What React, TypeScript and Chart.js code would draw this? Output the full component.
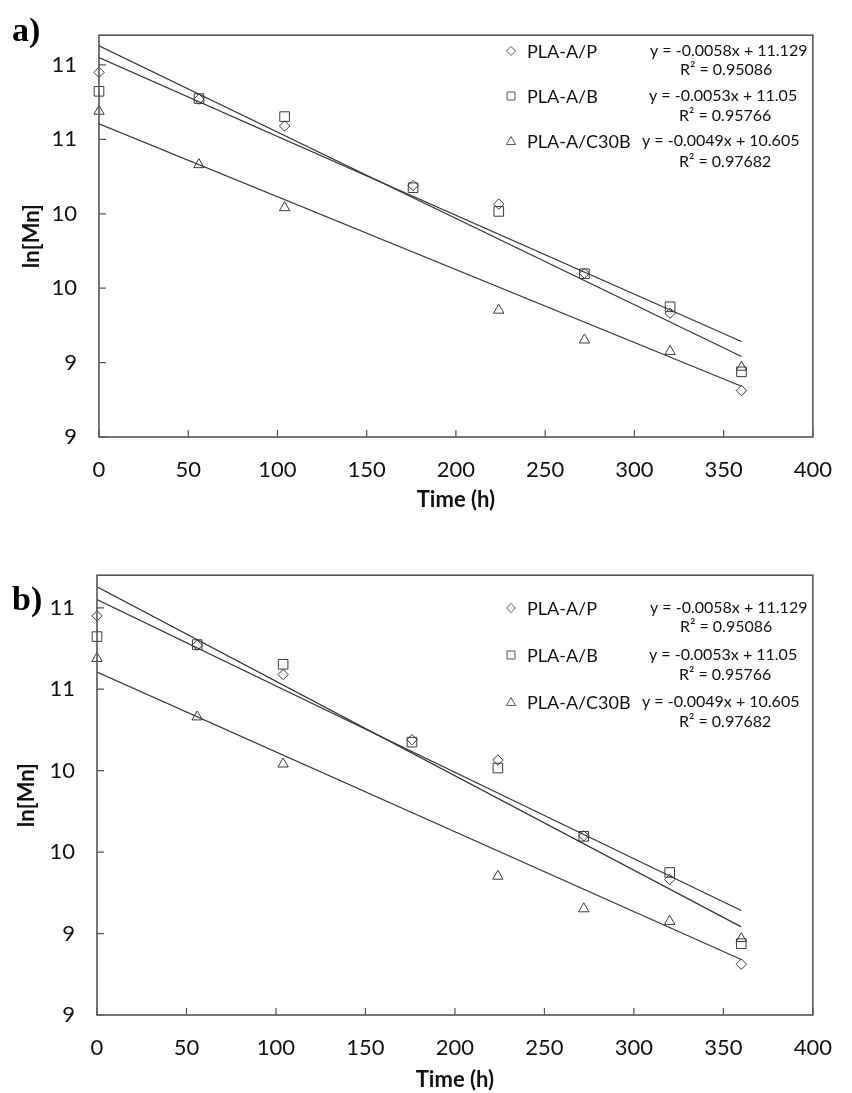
import React, { useEffect, useRef } from 'react';
import { Chart, registerables } from 'chart.js';

Chart.register(...registerables);

// ---------- data ----------
const timeH = [0, 56, 104, 176, 224, 272, 320, 360];
const lnMnP = [10.95, 10.77, 10.59, 10.19, 10.065, 9.6, 9.332, 8.812];
const lnMnB = [10.823, 10.774, 10.653, 10.175, 10.016, 9.597, 9.375, 8.938];
const timeC30B = [0, 56, 104, 224, 272, 320, 360];
const lnMnC30B = [10.689, 10.33, 10.041, 9.352, 9.152, 9.075, 8.969];

const trendX = [0, 360];
const trendP = [11.129, 9.041];
const trendB = [11.05, 9.142];
const trendC30B = [10.605, 8.841];

const xTicks = [0, 50, 100, 150, 200, 250, 300, 350, 400];
const xTickLabels = ['0', '50', '100', '150', '200', '250', '300', '350', '400'];
const yTickValues = [8.5, 9, 9.5, 10, 10.5, 11];
const yTickLabels = ['9', '9', '10', '10', '11', '11'];

const seriesNames = ['PLA-A/P', 'PLA-A/B', 'PLA-A/C30B'];
const equations = ['y = -0.0058x + 11.129', 'y = -0.0053x + 11.05', 'y = -0.0049x + 10.605'];
const rSquared = ['R² = 0.95086', 'R² = 0.95766', 'R² = 0.97682'];
const markerStyles = ['rectRot', 'rect', 'triangle'];

const xTitle = 'Time (h)';
const yTitle = 'ln[Mn]';

const FONT = 'Lato, "Open Sans", sans-serif';
const TEXT = '#111111';
const FRAME = '#555555';
const LINE = '#363636';
const MARK = '#3a3a3a';

type PanelCfg = {
  top: number;
  height: number;
  pad: { left: number; right: number; top: number; bottom: number };
  yAxisWidth: number;
  xAxisHeight: number;
  yTitlePad: number;
  legendRows: number[];
  rsqRows: number[];
  tag: string;
  tagTop: number;
};

const panels: PanelCfg[] = [
  {
    top: 0,
    height: 530,
    pad: { left: 0, right: 25, top: 15, bottom: 17 },
    yAxisWidth: 99,
    xAxisHeight: 76,
    yTitlePad: 19,
    legendRows: [51, 96, 141],
    rsqRows: [70, 116, 162],
    tag: 'a)',
    tagTop: 13,
  },
  {
    top: 540,
    height: 553,
    pad: { left: 0, right: 23, top: 35, bottom: 0 },
    yAxisWidth: 97,
    xAxisHeight: 78,
    yTitlePad: 14,
    legendRows: [68, 115, 162],
    rsqRows: [87, 135, 182],
    tag: 'b)',
    tagTop: 582,
  },
];

const eqX = [650, 649, 642];
const rsqX = [680, 679, 679];

const decorPlugin = {
  id: 'decor',
  afterDatasetsDraw(chart: any, _args: any, opts: any) {
    const { ctx, chartArea } = chart;
    const { left, right, top, bottom } = chartArea;
    ctx.save();
    // frame
    ctx.strokeStyle = FRAME;
    ctx.lineWidth = 1.6;
    ctx.strokeRect(left, top, right - left, bottom - top);
    // inner ticks
    ctx.lineWidth = 1.2;
    const xs = chart.scales.x;
    const ys = chart.scales.y;
    ctx.beginPath();
    xs.ticks.forEach((t: any) => {
      const px = xs.getPixelForValue(t.value);
      ctx.moveTo(px, bottom);
      ctx.lineTo(px, bottom - 7);
    });
    ys.ticks.forEach((t: any) => {
      const py = ys.getPixelForValue(t.value);
      ctx.moveTo(left, py);
      ctx.lineTo(left + 7, py);
    });
    ctx.stroke();

    // legend
    const rows: number[] = opts.legendRows;
    const rsq: number[] = opts.rsqRows;
    ctx.textBaseline = 'middle';
    ctx.textAlign = 'left';
    for (let i = 0; i < 3; i++) {
      const y = rows[i];
      ctx.strokeStyle = '#555';
      ctx.lineWidth = 1;
      ctx.beginPath();
      if (markerStyles[i] === 'rectRot') {
        ctx.moveTo(511, y - 4.5);
        ctx.lineTo(515.5, y);
        ctx.lineTo(511, y + 4.5);
        ctx.lineTo(506.5, y);
        ctx.closePath();
      } else if (markerStyles[i] === 'rect') {
        ctx.rect(507, y - 4, 8, 8);
      } else {
        ctx.moveTo(511, y - 4.5);
        ctx.lineTo(515.5, y + 3.5);
        ctx.lineTo(506.5, y + 3.5);
        ctx.closePath();
      }
      ctx.stroke();
      ctx.fillStyle = TEXT;
      ctx.font = `18px ${FONT}`;
      ctx.fillText(seriesNames[i], 527, y + 1);
      ctx.font = `16px ${FONT}`;
      ctx.fillText(equations[i], eqX[i], y);
      ctx.fillText(rSquared[i], rsqX[i], rsq[i]);
    }
    ctx.restore();
  },
};

function buildChart(canvas: HTMLCanvasElement, cfg: PanelCfg) {
  const pts = (xa: number[], ya: number[]) => xa.map((x, i) => ({ x, y: ya[i] }));
  const trend = (ya: number[]) => ({
    data: pts(trendX, ya),
    showLine: true,
    borderColor: LINE,
    borderWidth: 1.2,
    pointRadius: 0,
    fill: false,
  });
  const marks = (xa: number[], ya: number[], style: string, r: number, label: string) => ({
    label,
    data: pts(xa, ya),
    showLine: false,
    pointStyle: style,
    pointRadius: r,
    borderColor: MARK,
    backgroundColor: 'rgba(0,0,0,0)',
    borderWidth: 1,
    clip: false,
  });
  return new Chart(canvas, {
    type: 'scatter',
    data: {
      datasets: [
        trend(trendP),
        trend(trendB),
        trend(trendC30B),
        marks(timeH, lnMnP, 'rectRot', 5.2, seriesNames[0]),
        marks(timeH, lnMnB, 'rect', 6.8, seriesNames[1]),
        marks(timeC30B, lnMnC30B, 'triangle', 6, seriesNames[2]),
      ] as any,
    },
    options: {
      animation: false,
      responsive: false,
      devicePixelRatio: 1,
      layout: { padding: cfg.pad },
      plugins: {
        legend: { display: false },
        tooltip: { enabled: false },
        decor: { legendRows: cfg.legendRows, rsqRows: cfg.rsqRows },
      } as any,
      scales: {
        x: {
          type: 'linear',
          min: 0,
          max: 400,
          afterBuildTicks: (s: any) => {
            s.ticks = xTicks.map((v) => ({ value: v }));
          },
          afterFit: (s: any) => {
            s.height = cfg.xAxisHeight;
          },
          grid: { display: false, drawTicks: false },
          border: { display: false },
          ticks: {
            padding: 20,
            autoSkip: false,
            maxRotation: 0,
            color: TEXT,
            font: { family: FONT, size: 22 },
            callback: (_v: any, i: number) => xTickLabels[i],
          },
          title: {
            display: true,
            text: xTitle,
            color: TEXT,
            font: { family: FONT, size: 22, weight: 'bold', lineHeight: 1.2 },
            padding: 0,
          },
        },
        y: {
          type: 'linear',
          min: 8.5,
          max: 11.2,
          afterBuildTicks: (s: any) => {
            s.ticks = yTickValues.map((v) => ({ value: v }));
          },
          afterFit: (s: any) => {
            s.width = cfg.yAxisWidth;
          },
          grid: { display: false, drawTicks: false },
          border: { display: false },
          ticks: {
            padding: 22,
            autoSkip: false,
            color: TEXT,
            font: { family: FONT, size: 22 },
            callback: (_v: any, i: number) => yTickLabels[i],
          },
          title: {
            display: true,
            text: yTitle,
            color: TEXT,
            font: { family: FONT, size: 22, weight: 'bold', lineHeight: 1.2 },
            padding: { top: cfg.yTitlePad, bottom: 0 },
          },
        },
      },
    } as any,
    plugins: [decorPlugin],
  });
}

function Panel({ cfg }: { cfg: PanelCfg }) {
  const ref = useRef<HTMLCanvasElement | null>(null);
  useEffect(() => {
    if (!ref.current) return;
    const chart = buildChart(ref.current, cfg);
    return () => chart.destroy();
  }, [cfg]);
  return (
    <>
      <canvas
        ref={ref}
        width={852}
        height={cfg.height}
        style={{ position: 'absolute', left: 0, top: cfg.top, width: 852, height: cfg.height }}
      />
      <div
        style={{
          position: 'absolute',
          left: 12,
          top: cfg.tagTop,
          fontFamily: '"Liberation Serif", "Times New Roman", serif',
          fontWeight: 'bold',
          fontSize: 34,
          lineHeight: '34px',
          color: '#000',
        }}
      >
        {cfg.tag}
      </div>
    </>
  );
}

export default function App() {
  return (
    <div style={{ position: 'absolute', left: 0, top: 0, width: 852, height: 1093, background: '#fff', overflow: 'hidden' }}>
      {panels.map((p) => (
        <Panel key={p.tag} cfg={p} />
      ))}
    </div>
  );
}
